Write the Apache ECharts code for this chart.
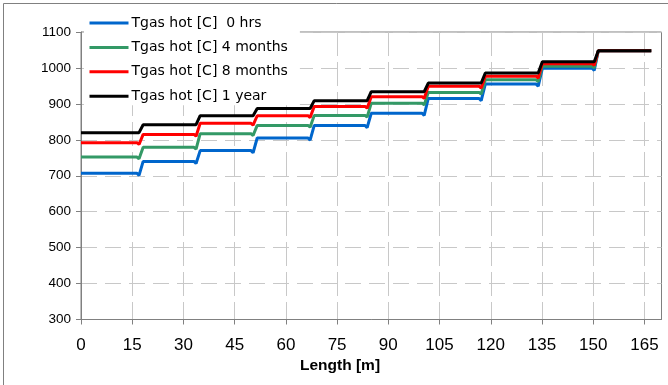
<!DOCTYPE html>
<html>
<head>
<meta charset="utf-8">
<script src="https://cdn.jsdelivr.net/npm/echarts@6/dist/echarts.min.js"></script>
<style>
html,body{margin:0;padding:0;background:#fff;}
#c{width:668px;height:385px;}
</style>
</head>
<body>
<div id="c"></div>
<script>
// ---- data ----
const seriesNames = ['Tgas hot [C]  0 hrs', 'Tgas hot [C] 4 months', 'Tgas hot [C] 8 months', 'Tgas hot [C] 1 year'];
const seriesColors = ['#0066CC', '#339966', '#FF0000', '#000000'];
// step positions along the length [m] and end of the profile
const stepStart = [17.0, 33.7, 50.4, 67.1, 83.8, 100.5, 117.2, 133.9, 150.3];
const stepEnd   = [18.2, 34.9, 51.6, 68.3, 85.0, 101.7, 118.4, 135.1, 151.5];
const profileEnd = 167;
// temperature level on each segment
const blue0hrs   = [707, 740, 770, 805, 840, 874, 915, 955, 999, 1048];
const green4mo   = [752, 779, 817, 840, 868, 902, 932, 967, 1005, 1048];
const red8mo     = [792, 815, 846, 867, 893, 920, 949, 977, 1012, 1048];
const black1yr   = [820, 842, 867, 887, 909, 934, 958, 986, 1017, 1048];
// small dip just before each rise
const dipDepth = [6, 5, 5, 0];
const xTicks = [0, 15, 30, 45, 60, 75, 90, 105, 120, 135, 150, 165];
const yTicks = [300, 400, 500, 600, 700, 800, 900, 1000, 1100];

const levels = [blue0hrs, green4mo, red8mo, black1yr];

function buildSeries(lv, dip) {
  const pts = [[0, lv[0]]];
  for (let k = 0; k < stepStart.length; k++) {
    pts.push([stepStart[k] - 0.6, lv[k]]);
    pts.push([stepStart[k], lv[k] - dip]);
    pts.push([stepEnd[k], lv[k + 1]]);
  }
  pts.push([profileEnd, lv[lv.length - 1]]);
  return pts;
}

const chart = echarts.init(document.getElementById('c'), null, {renderer: 'canvas'});
const font = 'Arial, "Liberation Sans", sans-serif';

chart.setOption({
  animation: false,
  backgroundColor: '#fff',
  textStyle: {fontFamily: font},
  grid: {left: 81, top: 32, right: 6.5, bottom: 65.5, show: true, borderColor: '#808080', borderWidth: 1, backgroundColor: 'transparent'},
  legend: {
    left: 84, top: 14, orient: 'vertical',
    itemWidth: 39, itemHeight: 14, itemGap: 10.4,
    backgroundColor: '#fff', padding: [2, 12, 2, 4],
    itemStyle: {opacity: 0},
    lineStyle: {width: 3},
    textStyle: {fontSize: 14, color: '#000', fontFamily: '"DejaVu Sans", Verdana, sans-serif', padding: [0, 0, 0, -2]},
    data: seriesNames.map(n => ({name: n}))
  },
  xAxis: {
    type: 'value', min: 0, max: 170, interval: 15,
    axisLine: {lineStyle: {color: '#808080'}},
    axisTick: {length: 5, lineStyle: {color: '#808080'}, customValues: xTicks},
    axisLabel: {customValues: xTicks, margin: 17, fontSize: 17, color: '#000', fontFamily: font},
    splitLine: {show: true, lineStyle: {color: '#c8c8c8', type: [24, 6], width: 1}}
  },
  yAxis: {
    type: 'value', min: 300, max: 1100, interval: 100,
    axisLine: {show: true, lineStyle: {color: '#808080'}},
    axisTick: {show: true, length: 5, lineStyle: {color: '#808080'}},
    axisLabel: {margin: 10, fontSize: 13.5, color: '#000', fontFamily: font, formatter: v => String(v)},
    splitLine: {show: true, lineStyle: {color: '#c8c8c8', type: [16, 8], width: 1}}
  },
  graphic: [
    {type: 'rect', shape: {x: 3.5, y: 3.5, width: 700, height: 500}, style: {fill: 'none', stroke: '#808080', lineWidth: 1}, z: -1, silent: true},
    {type: 'text', left: 300, top: 358, style: {text: 'Length [m]', font: 'bold 15.5px ' + font, fill: '#000'}}
  ],
  series: levels.map((lv, i) => ({
    name: seriesNames[i],
    type: 'line',
    data: buildSeries(lv, dipDepth[i]),
    symbol: 'none',
    smooth: false,
    color: seriesColors[i],
    lineStyle: {width: 3, color: seriesColors[i]},
    z: 2 + i
  }))
});
</script>
</body>
</html>
